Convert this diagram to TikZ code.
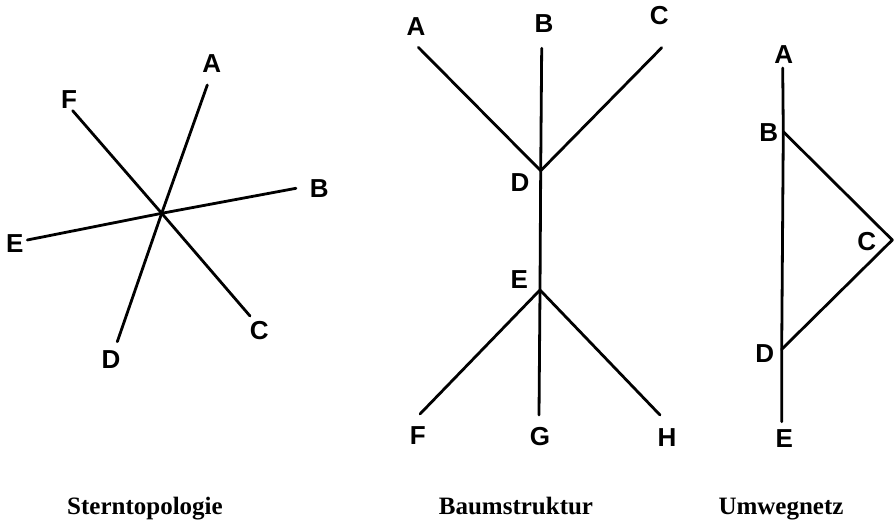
\documentclass[tikz,border=0pt]{standalone}
\usepackage{fontspec}
\setmainfont{Liberation Serif}
\newfontfamily\lblfont{Liberation Sans Bold}
\newfontfamily\capfont{Liberation Serif Bold}
\tikzset{
  edge/.style={line width=2.8pt, line cap=round, line join=round, black},
  lbl/.style={inner sep=0pt, font=\lblfont\fontsize{26}{26}\selectfont},
  captiontext/.style={inner sep=0pt, anchor=base, font=\capfont\fontsize{25}{25}\selectfont}
}
\begin{document}
\begin{tikzpicture}[x=1pt,y=-1pt]
\useasboundingbox (0,0) rectangle (894,524);
% ---------- Sterntopologie ----------
\coordinate (sO) at (161.7,213.3);
\coordinate (sA) at (207.3,85);
\coordinate (sF) at (72.7,110.7);
\coordinate (sB) at (296,188.3);
\coordinate (sE) at (27.3,240);
\coordinate (sC) at (250,316);
\coordinate (sD) at (117.3,341.7);
\draw[edge] (sA) -- (sO) -- (sD);
\draw[edge] (sF) -- (sO) -- (sC);
\draw[edge] (sE) -- (sO) -- (sB);
\node[lbl] (lsA) at (211.7,64) {A};
\node[lbl] (lsF) at (69,100) {F};
\node[lbl] (lsB) at (319.3,188.3) {B};
\node[lbl] (lsE) at (14.7,243.3) {E};
\node[lbl] (lsC) at (259.3,331) {C};
\node[lbl] (lsD) at (111,360) {D};
\node[captiontext] (cap1) at (145,514) {Sterntopologie};
% ---------- Baumstruktur ----------
\coordinate (tA) at (418.3,47.3);
\coordinate (tB) at (541.7,48.3);
\coordinate (tC) at (661.7,47.7);
\coordinate (tD) at (540.7,170.7);
\coordinate (tE) at (540,290);
\coordinate (tF) at (420,414);
\coordinate (tG) at (539,415);
\coordinate (tH) at (660,415);
\draw[edge] (tA) -- (tD) -- (tC);
\draw[edge] (tB) -- (tD) -- (tE) -- (tG);
\draw[edge] (tF) -- (tE) -- (tH);
\node[lbl] (ltA) at (416,26.7) {A};
\node[lbl] (ltB) at (544,23.3) {B};
\node[lbl] (ltC) at (659.3,16) {C};
\node[lbl] (ltD) at (520,182.3) {D};
\node[lbl] (ltE) at (519.3,280) {E};
\node[lbl] (ltF) at (417.7,436) {F};
\node[lbl] (ltG) at (540,437) {G};
\node[lbl] (ltH) at (667,438) {H};
\node[captiontext] (cap2) at (516,514) {Baumstruktur};
% ---------- Umwegnetz ----------
\coordinate (uA) at (782.7,68);
\coordinate (uB) at (783.3,131.7);
\coordinate (uC) at (892.3,240);
\coordinate (uD) at (781.7,349.3);
\coordinate (uE) at (781.7,421.7);
\draw[edge] (uA) -- (uB) -- (uD) -- (uE);
\draw[edge] (uB) -- (uC) -- (uD);
\node[lbl] (luA) at (783.7,55) {A};
\node[lbl] (luB) at (768.7,132.3) {B};
\node[lbl] (luC) at (866.7,242) {C};
\node[lbl] (luD) at (764.7,353.3) {D};
\node[lbl] (luE) at (784.3,438.7) {E};
\node[captiontext] (cap3) at (781,514) {Umwegnetz};
\end{tikzpicture}
\end{document}
